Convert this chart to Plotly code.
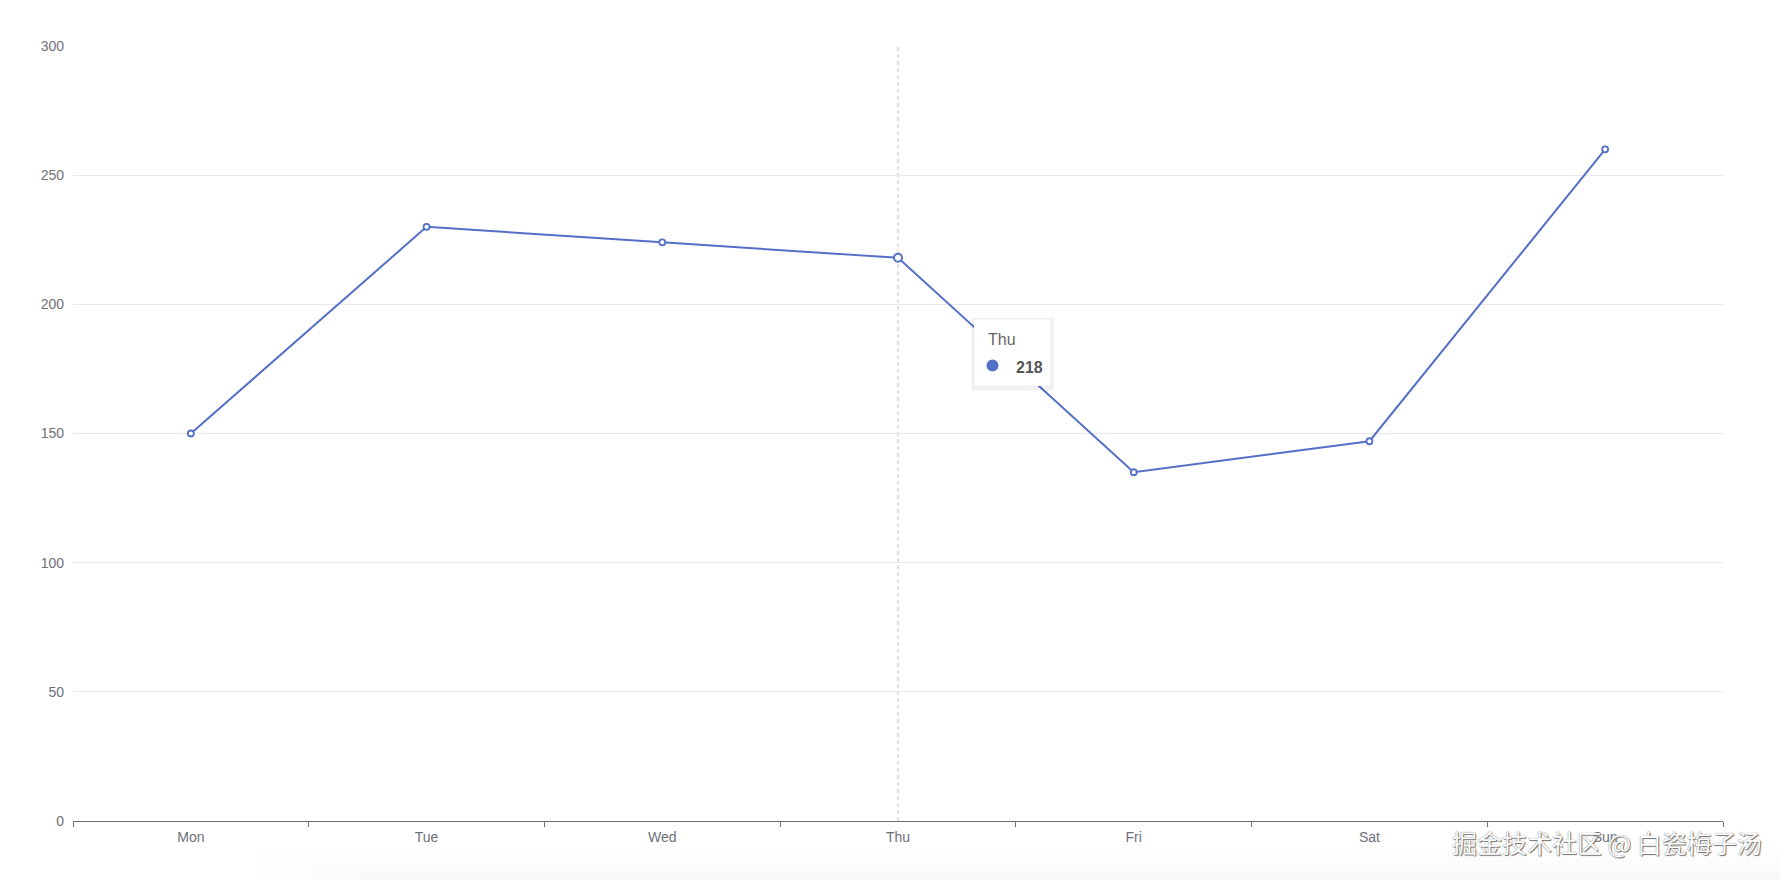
import plotly.graph_objects as go

days = ["Mon", "Tue", "Wed", "Thu", "Fri", "Sat", "Sun"]
values = [150, 230, 224, 218, 135, 147, 260]
y_ticks = [0, 50, 100, 150, 200, 250, 300]
hover_index = 3

# page is offset by the default 8px body margin
OFF = 8
W, H = 1788 - OFF, 880 - OFF
L, R, T, B = 65, 65, 38, 59
PW, PH = W - L - R, H - T - B

def px(x):  # page pixel -> paper
    return (x - OFF - L) / PW

def py(y):
    return (H - B - (y - OFF)) / PH

color = "#5470c6"
label_color = "#6e7079"

fig = go.Figure()
fig.add_trace(go.Scatter(
    x=days, y=values, mode="lines+markers",
    line=dict(color=color, width=2),
    marker=dict(symbol="circle", size=6, color="white", line=dict(color=color, width=1.8)),
    hoverinfo="skip", showlegend=False,
))
fig.add_trace(go.Scatter(
    x=[days[hover_index]], y=[values[hover_index]], mode="markers",
    marker=dict(symbol="circle", size=8, color="white", line=dict(color=color, width=2)),
    hoverinfo="skip", showlegend=False,
))

shapes = []
shapes.append(dict(type="line", xref="x", yref="paper", x0=hover_index, x1=hover_index, y0=0, y1=1,
                   line=dict(color="#c0c0c0", width=1, dash="4px,3px"), layer="below"))
bx0, bx1, by0, by1 = 974, 1051, 319, 386
for i, op in enumerate([0.012, 0.018, 0.025]):
    d = 4 - i
    shapes.append(dict(type="rect", xref="paper", yref="paper",
                       x0=px(bx0 - d), x1=px(bx1 + d), y0=py(by1 + d + 2), y1=py(by0 - d + 2),
                       fillcolor=f"rgba(0,0,0,{op})", line=dict(width=0), layer="above"))
shapes.append(dict(type="rect", xref="paper", yref="paper",
                   x0=px(bx0), x1=px(bx1), y0=py(by1), y1=py(by0),
                   fillcolor="white", line=dict(color="rgba(0,0,0,0.04)", width=1), layer="above"))
cx, cy, r = 992.5, 365.5, 6
shapes.append(dict(type="circle", xref="paper", yref="paper",
                   x0=px(cx - r), x1=px(cx + r), y0=py(cy + r), y1=py(cy - r),
                   fillcolor=color, line=dict(width=0), layer="above"))
for i in range(6):
    shapes.append(dict(type="rect", xref="paper", yref="paper",
                       x0=px(260 + i * 25), x1=px(1788), y0=py(880), y1=py(850 + i * 5),
                       fillcolor="rgba(0,0,0,0.005)", line=dict(width=0), layer="below"))

annotations = [
    dict(xref="paper", yref="paper", x=px(986), y=py(339), text="Thu", showarrow=False,
         xanchor="left", yanchor="middle", font=dict(size=16, color="#666666")),
    dict(xref="paper", yref="paper", x=px(1014), y=py(367), text="<b>218</b>", showarrow=False,
         xanchor="left", yanchor="middle", font=dict(size=16, color="#555555")),
    dict(xref="paper", yref="paper", x=px(1764), y=py(842), text="掘金技术社区 @ 白瓷梅子汤",
         showarrow=False, xanchor="right", yanchor="middle",
         font=dict(size=25, color="white", family="Noto Sans CJK SC",
                   shadow="0px 0px 1px #555, 1px 1px 1px #777")),
]

fig.update_layout(
    width=W, height=H,
    margin=dict(l=L, r=R, t=T, b=B),
    paper_bgcolor="white", plot_bgcolor="white",
    font=dict(family="Liberation Sans, Arial, sans-serif", size=14, color=label_color),
    shapes=shapes, annotations=annotations,
    xaxis=dict(
        type="category", categoryorder="array", categoryarray=days,
        range=[-0.5, len(days) - 0.5],
        showgrid=False, zeroline=False,
        showline=True, linecolor="#6e7079", linewidth=1,
        ticks="outside", tickson="boundaries", ticklen=5, tickcolor="#6e7079",
        ticklabelstandoff=3,
        tickfont=dict(size=14, color=label_color),
    ),
    yaxis=dict(
        range=[0, 300], tickvals=y_ticks,
        showgrid=True, gridcolor="#e9e9e9", gridwidth=1,
        zeroline=False, showline=False, ticks="",
        ticklabelstandoff=8,
        tickfont=dict(size=14, color=label_color),
    ),
)

fig.write_html("out.html")
